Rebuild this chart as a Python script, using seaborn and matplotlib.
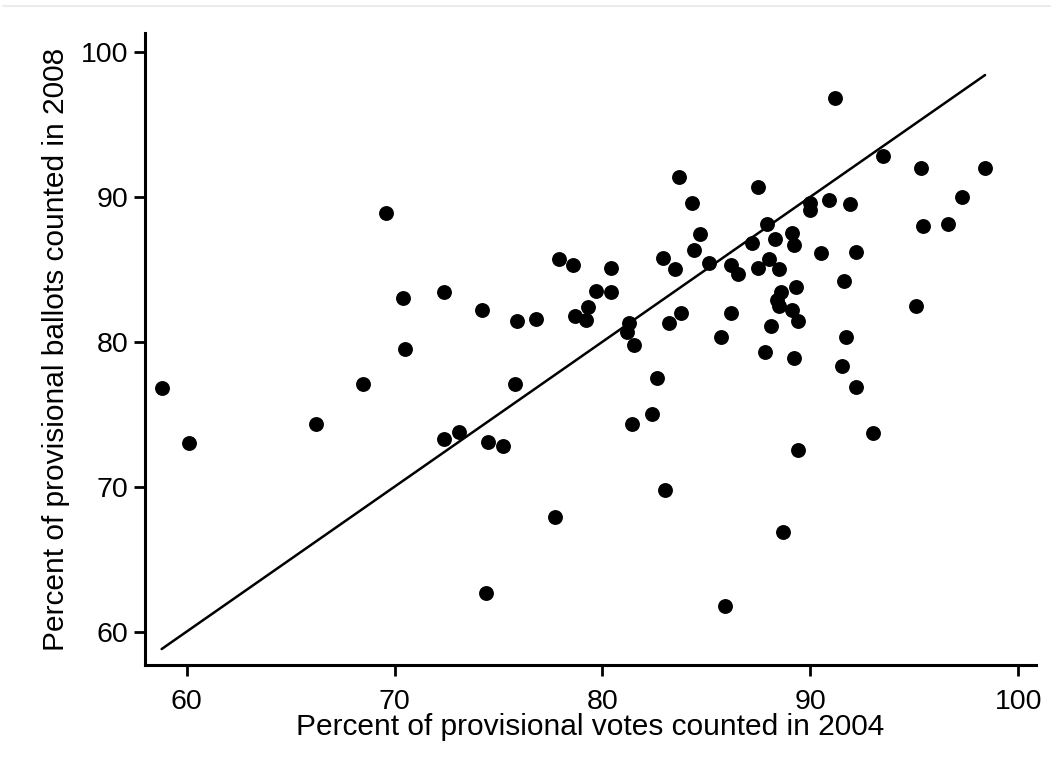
import matplotlib
matplotlib.use("Agg")
import matplotlib.pyplot as plt
from matplotlib.lines import Line2D
import seaborn as sns
import pandas as pd

# Data
pct_2004 = [69.6, 83.7, 84.3, 84.7, 84.4, 82.9, 83.5, 85.1, 77.9, 78.6, 80.4,
            91.2, 93.5, 95.3, 98.4, 97.3, 87.5, 90.0, 90.0, 90.9, 91.9, 95.4, 96.6,
            87.9, 87.2, 88.3, 89.1, 89.2, 90.5, 92.2, 88.0, 87.5, 88.5, 86.2, 86.5,
            91.6, 89.3, 88.6, 88.4, 88.5, 89.1, 89.4, 88.1, 86.2, 85.7, 95.1, 91.7,
            87.8, 89.2, 91.5, 92.2, 93.0, 89.4,
            72.4, 74.2, 75.9, 76.8, 78.7, 79.3, 79.2, 79.7, 80.4, 81.3, 81.2, 81.5,
            83.2, 83.8, 82.6, 82.4, 81.4, 83.0, 77.7, 75.8, 72.4, 73.1, 74.5, 75.2,
            70.4, 70.5, 68.5, 66.2, 58.8, 60.1, 74.4, 88.7, 85.9]
pct_2008 = [88.9, 91.4, 89.6, 87.4, 86.3, 85.8, 85.0, 85.4, 85.7, 85.3, 85.1,
            96.8, 92.8, 92.0, 92.0, 90.0, 90.7, 89.6, 89.1, 89.8, 89.5, 88.0, 88.1,
            88.1, 86.8, 87.1, 87.5, 86.7, 86.1, 86.2, 85.7, 85.1, 85.0, 85.3, 84.7,
            84.2, 83.8, 83.4, 82.9, 82.5, 82.2, 81.4, 81.1, 82.0, 80.3, 82.5, 80.3,
            79.3, 78.9, 78.3, 76.9, 73.7, 72.5,
            83.4, 82.2, 81.4, 81.6, 81.8, 82.4, 81.5, 83.5, 83.4, 81.3, 80.7, 79.8,
            81.3, 82.0, 77.5, 75.0, 74.3, 69.8, 67.9, 77.1, 73.3, 73.8, 73.1, 72.8,
            83.0, 79.5, 77.1, 74.3, 76.8, 73.0, 62.7, 66.9, 61.8]
x_ticks = [60, 70, 80, 90, 100]
y_ticks = [60, 70, 80, 90, 100]
x_label = "Percent of provisional votes counted in 2004"
y_label = "Percent of provisional ballots counted in 2008"

df = pd.DataFrame({"x": pct_2004, "y": pct_2008})
lo, hi = min(pct_2004), max(pct_2004)
line_df = pd.DataFrame({"x": [lo, hi], "y": [lo, hi]})

sns.set_style("ticks")
plt.rcParams['font.family'] = ['Liberation Sans', 'DejaVu Sans']

fig = plt.figure(figsize=(10.51, 7.69), dpi=100)
ax = fig.add_axes([145/1051, 1 - 665/769, (1036-145)/1051, (665-33)/769])

sns.lineplot(data=line_df, x="x", y="y", ax=ax, color="black", linewidth=1.8)
sns.scatterplot(data=df, x="x", y="y", ax=ax, color="black", s=115,
                edgecolor="black", linewidth=0, zorder=3)

ax.set_xlim(58.0, 100.85)
ax.set_ylim(57.7, 101.3)
ax.set_xticks(x_ticks)
ax.set_yticks(y_ticks)
ax.tick_params(axis="both", which="major", direction="out", length=8, width=2,
               labelsize=20.5, colors="black", bottom=True, left=True)
ax.tick_params(axis="x", pad=9)
ax.tick_params(axis="y", pad=4)
for side in ["top", "right"]:
    ax.spines[side].set_visible(False)
for side in ["left", "bottom"]:
    ax.spines[side].set_linewidth(2.2)
    ax.spines[side].set_color("black")

ax.set_xlabel(x_label, fontsize=21.5, labelpad=-1, color="black")
ax.set_ylabel(y_label, fontsize=21.5, labelpad=8, color="black")

fig.add_artist(Line2D([3/1051, 1], [1 - 6/769, 1 - 6/769], color="#e8edf1",
                      linewidth=1.5, transform=fig.transFigure))

fig.savefig("out.png", dpi=100, facecolor="white")
